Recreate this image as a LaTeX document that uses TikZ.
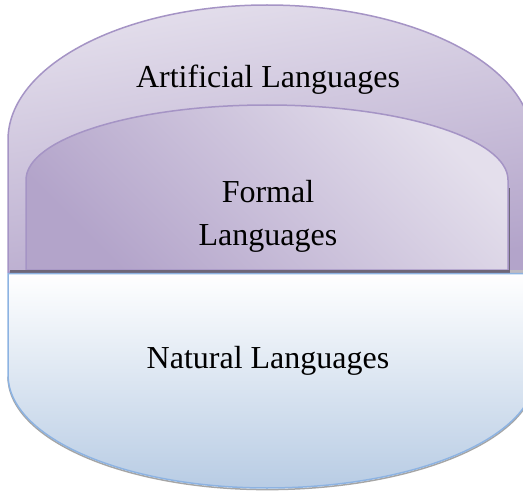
\documentclass[tikz,border=0pt]{standalone}
\usepackage{fontspec}
\setmainfont{Liberation Serif}
\definecolor{purpL}{HTML}{E4DFEC}
\definecolor{purpM}{HTML}{D3CAE2}
\definecolor{purpD}{HTML}{B3A4CA}
\definecolor{purpB}{HTML}{A594C5}
\definecolor{blueL}{HTML}{FFFFFF}
\definecolor{blueD}{HTML}{B8CCE4}
\definecolor{blueB}{HTML}{8DB3E2}
\definecolor{sepC}{HTML}{6E6778}
\tikzset{
  lbl/.style={font=\fontsize{32}{43}\selectfont, text=black, anchor=base},
  purpshape/.style={draw=purpB, line width=1.5pt},
}
\begin{document}
\begin{tikzpicture}[x=1pt,y=-1pt]
\useasboundingbox (0,0) rectangle (523,495);
\clip (0,0) rectangle (523,495);
% outer artificial (quarter ellipses: centre (267,140), ry 135)
\path[purpshape, top color=purpL, bottom color=purpD, shading angle=10]
  (8,272) -- (8,140) .. controls (8,65.4) and (124,5) .. (267,5)
  .. controls (413,5) and (532,65.4) .. (532,140) -- (532,272) -- cycle;
% inner formal (centre (267,180), ry 75, rx 241)
\path[purpshape, top color=purpD, middle color=purpL, bottom color=purpL, shading angle=135]
  (26,270) -- (26,180) .. controls (26,138.6) and (134,105) .. (267,105)
  .. controls (400,105) and (508,138.6) .. (508,180) -- (508,270) -- cycle;
% shadow lines
\draw[sepC, line width=1.5pt] (509.5,188) -- (509.5,271);
\draw[sepC, line width=3pt] (10,271) -- (510,271);
\draw[sepC!45, line width=3pt] (510,271) -- (523,271);
% natural shadow (shifted straight down)
\draw[gray!70, line width=1.5pt, yshift=-1.6pt]
  (8,375) .. controls (8,437.4) and (124,488) .. (267,488)
  .. controls (415,488) and (535,437.4) .. (535,375);
% natural (centre (267,375), ry 113)
\path[draw=blueB, line width=1.5pt, top color=blueL, bottom color=blueD]
  (8,273.5) -- (8,375) .. controls (8,437.4) and (124,488) .. (267,488)
  .. controls (415,488) and (535,437.4) .. (535,375) -- (535,273.5) -- cycle;
\node[lbl] (art) at (268,88) {Artificial Languages};
\node[lbl] (form1) at (268,202) {Formal};
\node[lbl] (form2) at (268,245) {Languages};
\node[lbl] (nat) at (268,368) {Natural Languages};
\end{tikzpicture}
\end{document}
